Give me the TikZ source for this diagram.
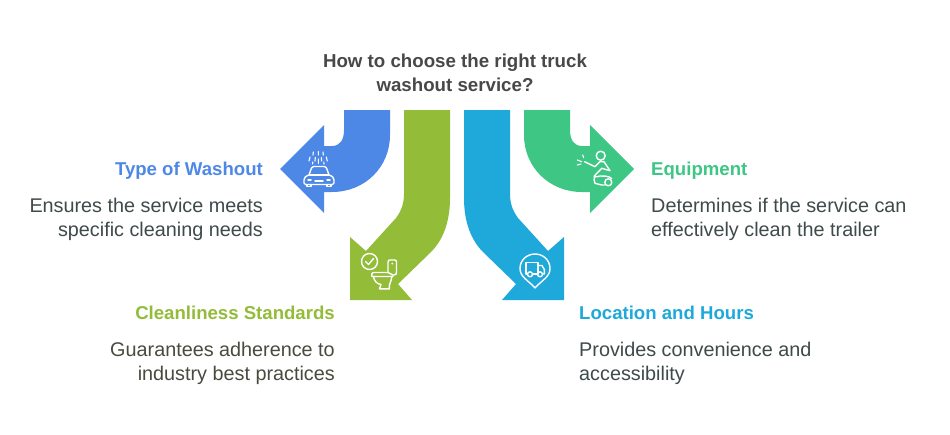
\documentclass[tikz,border=0pt]{standalone}
\usepackage{fontspec}
\setmainfont{Liberation Sans}
\definecolor{cblue}{HTML}{4E88E7}
\definecolor{cgreen}{HTML}{93BC39}
\definecolor{ccyan}{HTML}{1EA9DA}
\definecolor{cmint}{HTML}{3EC685}
\definecolor{ctitle}{HTML}{484848}
\definecolor{cbody}{HTML}{3F4A4A}
\definecolor{cbody2}{HTML}{4A4A3F}
\tikzset{
 titletext/.style={font=\fontsize{18.7}{24}\selectfont\bfseries,text=ctitle,align=center,inner sep=0},
 headtext/.style={font=\fontsize{18.6}{24}\selectfont\bfseries,inner sep=0},
 bodytext/.style={font=\fontsize{19.8}{24}\selectfont,text=cbody,inner sep=0},
 icon/.style={draw=white,line width=1.4pt,line join=round,line cap=round,fill=none}
}
\begin{document}
\begin{tikzpicture}[x=1pt,y=-1pt]
\useasboundingbox (0,0) rectangle (950,434);
\fill[white] (0,0) rectangle (950,434);
% arrows
\fill[cblue] (344,110) -- (344,130) .. controls (344,140) and (340,146) .. (332,146) -- (324,146) -- (324,125) -- (280,169) -- (324,213) -- (324,192) -- (332,192) .. controls (365,192) and (390,167) .. (390,135) -- (390,110) -- cycle;
\fill[cgreen] (404,110) -- (404,194) .. controls (404,202) and (402,210) .. (396,218) -- (366,251) -- (350,237) -- (350,300) -- (412,300) -- (398,284) -- (431,252) .. controls (443,240) and (450,222) .. (450,198) -- (450,110) -- cycle;
\fill[ccyan] (510,110) -- (510,194) .. controls (510,202) and (512,210) .. (518,218) -- (548,251) -- (564,237) -- (564,300) -- (502,300) -- (516,284) -- (483,252) .. controls (471,240) and (464,222) .. (464,198) -- (464,110) -- cycle;
\fill[cmint] (570,110) -- (570,130) .. controls (570,140) and (574,146) .. (582,146) -- (590,146) -- (590,125) -- (634,169) -- (590,213) -- (590,192) -- (582,192) .. controls (549,192) and (524,167) .. (524,135) -- (524,110) -- cycle;
% car icon
\draw[icon] (309,175) -- (311.5,168) .. controls (312,167) and (312.5,166.5) .. (313.5,166.5) -- (324.5,166.5) .. controls (325.5,166.5) and (326,167) .. (326.5,168) -- (329,175) .. controls (332.5,176) and (334,178) .. (334,180) -- (334,183) .. controls (334,184) and (333.5,184.5) .. (332.5,184.5) -- (305.5,184.5) .. controls (304.5,184.5) and (304,184) .. (304,183) -- (304,180) .. controls (304,178) and (305.5,176) .. (309,175) -- cycle;
\draw[icon] (309,175) -- (329,175);
\draw[icon] (307,185) -- (307,186.5) -- (311,186.5) -- (311,185);
\draw[icon] (327,185) -- (327,186.5) -- (331,186.5) -- (331,185);
\draw[icon] (308,180) -- (311,180) (327,180) -- (330,180) (315,181) -- (323,181);
\draw[icon,line width=1.1pt] (313.3,152) -- (313,155) (318.3,151.5) -- (318.3,155) (323,152) -- (323.3,155)
 (310,157) -- (309,161) (315.3,157.5) -- (315,161) (321.3,157.5) -- (321.6,161) (326.3,157) -- (327.3,161)
 (318.3,159) -- (318.3,163.5) (312.8,162) -- (312.6,164) (323.8,162) -- (324,164);
% toilet icon
\draw[icon] (369.5,261.5) circle (8);
\draw[icon] (365.5,261.5) -- (368.5,264.5) -- (373.5,258.5);
\draw[icon] (388,272.5) -- (388,262) .. controls (388,260.5) and (389,260) .. (390,260) -- (395,260) .. controls (396,260) and (396.5,261) .. (396.5,262) -- (396.5,272) .. controls (396.5,274) and (396,275) .. (394,275);
\fill[white] (392.3,263.6) circle (1);
\draw[icon] (373,272.5) -- (388,272.5) -- (393,275) -- (393,276.5) -- (372,276.5) .. controls (371.5,275) and (371.5,273) .. (373,272.5) -- cycle;
\draw[icon] (373.5,276.5) .. controls (374,281) and (377,284) .. (381,284.5) -- (379.5,288.8) -- (389.5,288.8) .. controls (388.5,285) and (391,282) .. (392,276.5);
% truck icon
\draw[icon] (535,288) .. controls (528,280) and (520,277) .. (520,268.5) .. controls (520,260) and (527,254) .. (535,254) .. controls (543,254) and (550,260) .. (550,268.5) .. controls (550,277) and (542,280) .. (535,288) -- cycle;
\draw[icon] (527.5,274) -- (526,274) -- (526,262.5) -- (538,262.5) -- (538,274) -- (532.5,274);
\draw[icon] (538,265.5) -- (542,265.5) -- (544.3,269.5) -- (544.3,274) -- (542.7,274);
\draw[icon] (530,274.3) circle (2.5);
\draw[icon] (540,274.3) circle (2.5);
% person icon
\draw[icon] (600.7,155.7) circle (4.5);
\draw[icon] (584.5,161.7) -- (595,166.7) -- (600,161.5) -- (604,161.7) -- (610,170.7) -- (601.7,168.3) -- (594.3,176);
\draw[icon] (594.3,176) .. controls (593.5,179) and (594.5,181) .. (595,183.3) -- (601.7,185) -- (604.5,185);
\draw[icon] (595,177) .. controls (602,175) and (609,176) .. (611.7,178.5);
\draw[icon] (608.3,182.3) circle (3.5);
\draw[icon,line width=1.1pt] (577.3,160) -- (581.7,161.7) (582.7,155) -- (583.7,157.7) (577.3,165) -- (581,164);
% text
\node[titletext,anchor=north] (ttl) at (455,54) {How to choose the right truck\\washout service?};
\node[headtext,anchor=base east,text=cblue] (h1) at (263,175) {Type of Washout};
\node[bodytext,anchor=north east,align=right] (b1) at (263,198) {Ensures the service meets\\specific cleaning needs};
\node[headtext,anchor=base east,text=cgreen] (h2) at (335,319) {Cleanliness Standards};
\node[bodytext,anchor=north east,align=right,text=cbody2] (b2) at (335,342) {Guarantees adherence to\\industry best practices};
\node[headtext,anchor=base west,text=ccyan] (h3) at (579,319) {Location and Hours};
\node[bodytext,anchor=north west,align=left] (b3) at (579,342) {Provides convenience and\\accessibility};
\node[headtext,anchor=base west,text=cmint] (h4) at (651,175) {Equipment};
\node[bodytext,anchor=north west,align=left] (b4) at (651,198) {Determines if the service can\\effectively clean the trailer};
\end{tikzpicture}
\end{document}
